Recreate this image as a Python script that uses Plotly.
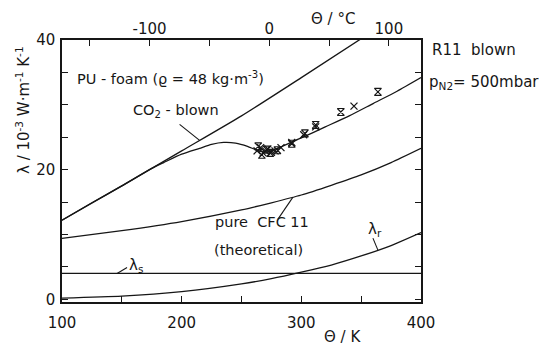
import numpy as np
import plotly.graph_objects as go

# Thermal conductivity of PU foam (density 48 kg/m^3), lambda in 10^-3 W m^-1 K^-1
# CO2-blown foam
T_co2 = [100, 150, 200, 250, 300, 350]
lam_co2 = [12.2, 17.5, 22.9, 28.3, 34.2, 40.2]

# R11-blown foam, p_N2 = 500 mbar (condensation hump below ~270 K)
T_r11 = [100, 125, 150, 175, 185, 200, 215, 225, 235, 245, 255, 263, 270,
         280, 290, 300, 320, 340, 360, 380, 400]
lam_r11 = [12.2, 14.9, 17.5, 20.2, 21.1, 22.4, 23.3, 23.9, 24.2, 24.1, 23.6,
           23.0, 22.7, 23.3, 24.1, 24.9, 26.6, 28.3, 30.2, 32.1, 34.2]

# pure CFC 11 (theoretical)
T_cfc = [100, 150, 200, 250, 275, 300, 325, 350, 375, 400]
lam_cfc = [9.4, 10.6, 12.0, 13.8, 14.9, 16.1, 17.6, 19.2, 21.1, 23.3]

# radiative contribution
T_rad = [100, 150, 200, 250, 275, 300, 325, 350, 375, 400]
lam_rad = [0.2, 0.5, 1.2, 2.4, 3.2, 4.2, 5.3, 6.7, 8.3, 10.3]

# solid contribution
T_sol = [100, 400]
lam_sol = [4.0, 4.0]

# measured values, R11 blown
T_meas_a = [263, 266, 268, 270, 272, 275, 278, 283, 292, 302, 312, 344]
lam_meas_a = [22.9, 23.4, 22.6, 22.9, 23.2, 22.7, 22.9, 23.4, 24.2, 25.4, 26.6, 29.8]
T_meas_b = [264, 267, 271, 274, 280, 292, 303, 312, 333, 364]
lam_meas_b = [23.6, 22.3, 23.1, 22.6, 23.0, 24.0, 25.6, 26.9, 28.9, 32.0]

# Celsius tick labels on the top axis
c_ticks = [-100, 0, 100]
c_labels = ["-100", "0", "100"]

INK = "#161616"
FONT = "DejaVu Sans"
W, H = 539, 347
L, R, T, B = 62, 421, 40, 302   # plot frame in pixels


def paper(px, py):
    return (px - L) / (R - L), (B - py) / (B - T)


fig = go.Figure()
line = dict(color=INK, width=1.3, shape="spline", smoothing=0.6)
for xs, ys in [(T_co2, lam_co2), (T_r11, lam_r11), (T_cfc, lam_cfc),
               (T_rad, lam_rad), (T_sol, lam_sol)]:
    fig.add_trace(go.Scatter(x=xs, y=ys, mode="lines", line=line,
                             showlegend=False, hoverinfo="skip"))

fig.add_trace(go.Scatter(x=T_meas_a, y=lam_meas_a, mode="markers",
                         marker=dict(symbol="x-thin", size=7,
                                     line=dict(color=INK, width=1.3)),
                         showlegend=False))
fig.add_trace(go.Scatter(x=T_meas_b, y=lam_meas_b, mode="markers",
                         marker=dict(symbol="hourglass-open", size=7,
                                     color=INK, line=dict(color=INK, width=1.1)),
                         showlegend=False))
# carrier for the Celsius axis
fig.add_trace(go.Scatter(x=[100 - 273.15, 400 - 273.15], y=[None, None],
                         xaxis="x2", mode="lines", showlegend=False,
                         hoverinfo="skip"))

tickfont = dict(family=FONT, size=15, color=INK)
tick_common = dict(ticks="inside", ticklen=6, tickwidth=1.3, tickcolor=INK,
                   showgrid=False, zeroline=False, tickfont=tickfont)
minor_common = dict(ticks="inside", ticklen=6, tickwidth=1.3, tickcolor=INK,
                    showgrid=False)
fig.update_layout(
    width=W, height=H,
    margin=dict(l=L, r=W - R, t=T, b=H - B),
    paper_bgcolor="white", plot_bgcolor="white",
    xaxis=dict(range=[100, 400], tick0=100, dtick=100,
               minor=dict(dtick=50, tick0=100, **minor_common),
               showline=True, linecolor=INK, linewidth=1.5, mirror=True,
               ticklabelstandoff=6, **tick_common),
    xaxis2=dict(overlaying="x", side="top", anchor="y",
                range=[100 - 273.15, 400 - 273.15],
                tickvals=c_ticks, ticktext=c_labels,
                minor=dict(dtick=50, tick0=0, **minor_common),
                showline=False, ticklabelstandoff=2, **tick_common),
    yaxis=dict(range=[-0.4, 40], tick0=0, dtick=20,
               minor=dict(dtick=5, tick0=0, **minor_common),
               showline=True, linecolor=INK, linewidth=1.5, mirror="ticks",
               ticklabelstandoff=2, **tick_common),
)

texts = [
    ("PU - foam (ϱ = 48 kg·m<sup>-3</sup>)", 75, 78, "left", 0, 14.5),
    ("CO<sub>2</sub> - blown", 131, 111, "left", 0, 14.5),
    ("R11  blown", 430, 50, "left", 0, 15),
    ("p<sub>N2</sub>= 500mbar", 427, 82, "left", 0, 15),
    ("pure  CFC 11", 213, 222, "left", 0, 14.5),
    ("(theoretical)", 212, 250, "left", 0, 14.5),
    ("λ<sub>s</sub>", 127, 265, "left", 0, 15),
    ("λ<sub>r</sub>", 366, 229, "left", 0, 15),
    ("Θ / °C", 333, 19, "center", 0, 15),
    ("Θ / K", 342, 337, "center", 0, 15),
    ("λ / 10<sup>-3</sup> W·m<sup>-1</sup> K<sup>-1</sup>", 23, 110, "center", -90, 15),
]
for txt, px, py, anchor, ang, fs in texts:
    xp, yp = paper(px, py)
    fig.add_annotation(text=txt, x=xp, y=yp, xref="paper", yref="paper",
                       xanchor=anchor, yanchor="middle", showarrow=False,
                       textangle=ang, font=dict(family=FONT, size=fs, color=INK))

# leader lines from labels to curves (offsets in pixels, y upward)
leaders = [
    (215.0, T_co2, lam_co2, -20, 16),
    (293.0, T_cfc, lam_cfc, -15, -22),
    (146.0, T_sol, lam_sol, 10, 6),
    (364.0, T_rad, lam_rad, -5, 12),
]
for t0, xs, ys, dx, dy in leaders:
    fig.add_shape(type="line", xref="x", yref="y",
                  xsizemode="pixel", ysizemode="pixel",
                  xanchor=t0, yanchor=float(np.interp(t0, xs, ys)),
                  x0=0, y0=0, x1=dx, y1=dy,
                  line=dict(color=INK, width=1.1))

fig.write_html("out.html")
